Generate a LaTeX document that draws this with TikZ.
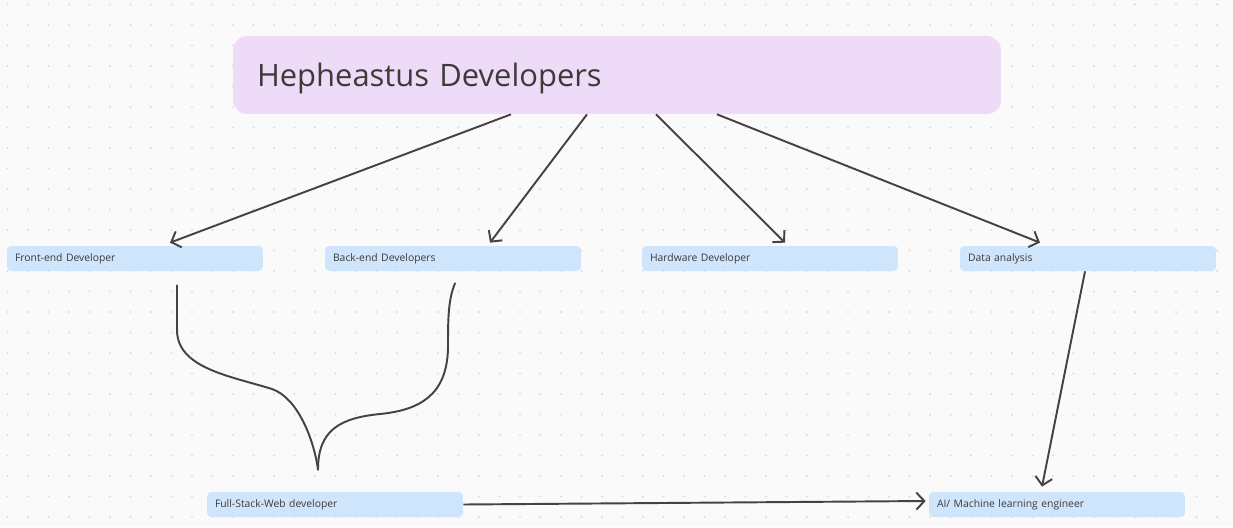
\documentclass[tikz,border=0pt]{standalone}
\usepackage{fontspec}
\setmainfont{Open Sans}
\usetikzlibrary{arrows.meta,calc}

\definecolor{fondo}{HTML}{FAFAFA}
\definecolor{punto}{HTML}{DCDCDC}
\definecolor{lila}{HTML}{EEDBF8}
\definecolor{azul}{HTML}{CFE5FC}
\definecolor{linea}{HTML}{46423F}
\definecolor{texto}{HTML}{3D3A38}

\begin{document}
\begin{tikzpicture}[x=0.02cm, y=-0.02cm,
  >={Straight Barb[length=1.6mm,width=3.4mm]},
  titulo/.style={fill=lila, rounded corners=8pt, text width=14.4cm, inner xsep=0.48cm,
    minimum height=1.56cm, text depth=0pt, align=left, text=texto, font=\fontsize{17.6}{22}\selectfont},
  caja/.style={fill=azul, rounded corners=2.5pt, text width=4.8cm, inner xsep=0.16cm,
    inner ysep=0pt, minimum height=0.5cm, align=left, text=texto, font=\fontsize{5.9}{7}\selectfont},
  flecha/.style={->, draw=linea, line width=1.1pt},
  curva/.style={draw=linea, line width=1.1pt, line cap=round}]

  \useasboundingbox (0,0) rectangle (1233,527);
  \fill[fondo] (0,0) rectangle (1233,527);

  % Puntos
  \foreach \i in {0,...,59}
    \foreach \j in {0,...,25}
      \fill[punto] (7.5+20.5*\i, 4.5+20.5*\j) circle (0.7pt);

  % Cajas
  \node[titulo] (hepheastus) at (617,75) {Hepheastus Developers};
  \node[caja] (front) at (135,258.5) {Front-end Developer};
  \node[caja] (back) at (453,258.5) {Back-end Developers};
  \node[caja] (hardware) at (770,258.5) {Hardware Developer};
  \node[caja] (data) at (1088,258.5) {Data analysis};
  \node[caja] (fullstack) at (335,504.5) {Full-Stack-Web developer};
  \node[caja] (ai) at (1057,504.5) {AI/ Machine learning engineer};

  % Flechas
  \draw[flecha] ($(hepheastus.south)+(-106,0)$) -- ($(front.north)+(35,-3)$);
  \draw[flecha] ($(hepheastus.south)+(-30,0)$) -- ($(back.north)+(37,-3)$);
  \draw[flecha] ($(hepheastus.south)+(39,0)$) -- ($(hardware.north)+(15,-3)$);
  \draw[flecha] ($(hepheastus.south)+(100,0)$) -- ($(data.north)+(-48,-3)$);
  \draw[flecha] ($(data.south)+(-3,0)$) -- ($(ai.north)+(-15,-5)$);
  \draw[flecha] (fullstack.east) -- ($(ai.west)+(-3,-3.5)$);

  % Curvas
  \coordinate (union) at ($(fullstack.north)+(-17,-22)$);
  \draw[curva] ($(front.south)+(42,14)$) -- (177,330)
    .. controls (177,368) and (230,376) .. (272,389)
    .. controls (298,398) and (314,440) .. (union);
  \draw[curva] ($(back.south)+(2,12)$)
    .. controls (448,300) and (448,320) .. (448,348)
    .. controls (447,395) and (420,410) .. (380,414)
    .. controls (340,418) and (318,430) .. (union);
\end{tikzpicture}
\end{document}
